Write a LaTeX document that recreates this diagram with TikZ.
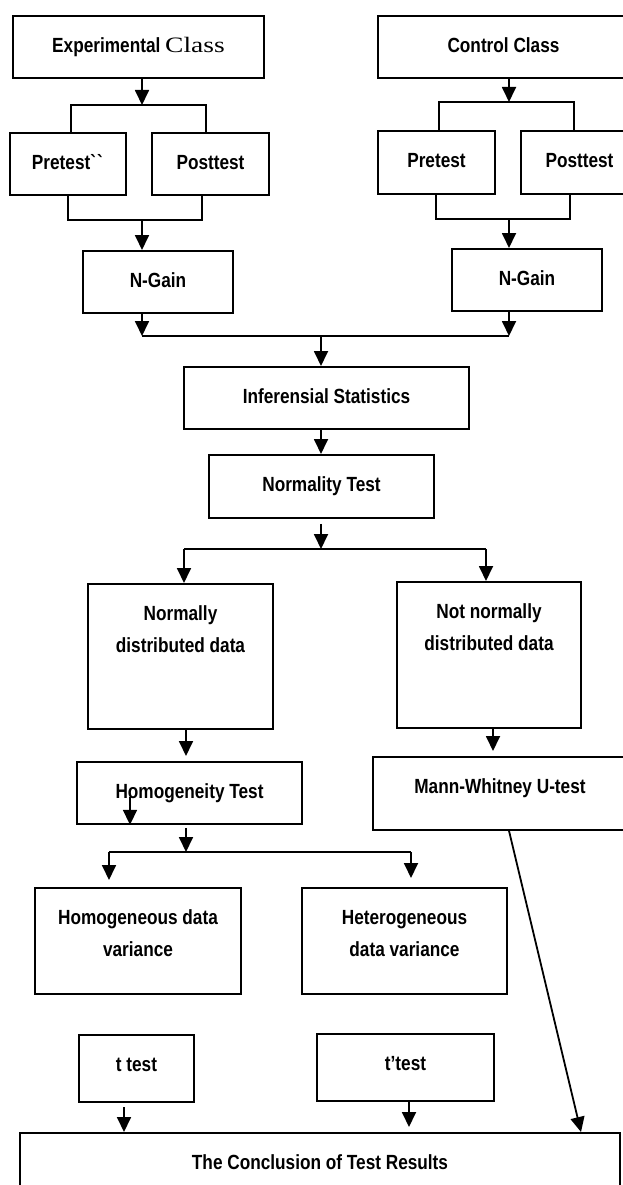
\documentclass[tikz,border=0pt]{standalone}
\usepackage{fontspec}
\setmainfont{Liberation Sans}
\newfontfamily\boxfont{Liberation Sans}[FakeStretch=0.84]
\newfontfamily\clsfont{Liberation Serif}[FakeStretch=1.25]
\usetikzlibrary{arrows.meta,calc}

\begin{document}
\begin{tikzpicture}[x=1pt,y=-1pt,
    box/.style={draw, line width=1.8pt, inner sep=0pt, anchor=north, align=center,
      text height=37pt, font=\boxfont\bfseries\fontsize{20.5}{31.5}\selectfont},
    twobox/.style={box, text height=68.5pt},
    line/.style={line width=1.8pt},
    arr/.style={line width=1.8pt, -{Triangle[width=14pt,length=15pt]}}]
    \useasboundingbox (0,0) rectangle (623,1185);
    % Classes
    \node[box, minimum width=251pt, text depth=25pt] (exp) at (138.5,15) {Experimental {\clsfont\mdseries\fontsize{22}{26}\selectfont Class}};
    \node[box, minimum width=251pt, text depth=25pt] (ctl) at (503.5,15) {Control Class};
    % Tests of each class
    \node[box, minimum width=116pt, text depth=25pt] (preE) at (68,132) {Pretest\textasciigrave\textasciigrave};
    \node[box, minimum width=117pt, text depth=25pt] (postE) at (210.5,132) {Posttest};
    \node[box, minimum width=117pt, text depth=26pt] (preC) at (436.5,130) {Pretest};
    \node[box, minimum width=117pt, text depth=26pt] (postC) at (579.5,130) {Posttest};
    \node[box, minimum width=150pt, text depth=25pt] (ngE) at (158,250) {N-Gain};
    \node[box, minimum width=150pt, text depth=25pt] (ngC) at (527,248) {N-Gain};
    % Statistics
    \node[box, minimum width=285pt, text depth=25pt] (inf) at (326.5,366) {Inferensial Statistics};
    \node[box, minimum width=225pt, text depth=26pt] (nt) at (321.5,454) {Normality Test};
    \node[twobox, minimum width=185pt, text depth=76.5pt] (nd) at (180.5,583) {Normally\\distributed data};
    \node[twobox, minimum width=184pt, text depth=77.5pt] (nnd) at (489,581) {Not normally\\distributed data};
    \node[box, minimum width=225pt, text depth=25pt] (hom) at (189.5,761) {Homogeneity Test};
    \node[box, minimum width=254pt, text depth=36pt] (mw) at (500,756) {Mann-Whitney U-test};
    \node[twobox, minimum width=206pt, text depth=37.5pt] (hgs) at (138,887) {Homogeneous data\\variance};
    \node[twobox, minimum width=205pt, text depth=37.5pt] (htg) at (404.5,887) {Heterogeneous\\data variance};
    \node[box, minimum width=115pt, text depth=30pt] (tt) at (136.5,1034) {t test};
    \node[box, minimum width=177pt, text depth=30pt] (tpt) at (405.5,1033) {t’test};
    \node[box, minimum width=600pt, text depth=35pt] (cnc) at (320,1132) {The Conclusion of Test Results};

    % Brackets of the experimental class
    \coordinate (eL) at (71,105); \coordinate (eM) at (142,105); \coordinate (eR) at (206,105);
    \coordinate (fL) at (68,220); \coordinate (fM) at (142,220); \coordinate (fR) at (202,220);
    \draw[arr] (exp.south -| eM) -- (eM);
    \draw[line] (preE.north -| eL) -- (eL) -- (eR) -- (postE.north -| eR);
    \draw[line] (preE.south -| fL) -- (fL) -- (fR) -- (postE.south -| fR);
    \draw[arr] (fM) -- (ngE.north -| fM);
    % Brackets of the control class
    \coordinate (cL) at (439,102); \coordinate (cM) at (509,102); \coordinate (cR) at (574,102);
    \coordinate (gL) at (436,219); \coordinate (gM) at (509,219); \coordinate (gR) at (570,219);
    \draw[arr] (ctl.south -| cM) -- (cM);
    \draw[line] (preC.north -| cL) -- (cL) -- (cR) -- (postC.north -| cR);
    \draw[line] (preC.south -| gL) -- (gL) -- (gR) -- (postC.south -| gR);
    \draw[arr] (gM) -- (ngC.north -| gM);
    % Joining both N-Gains
    \coordinate (mE) at (142,336); \coordinate (mM) at (321,336); \coordinate (mC) at (509,336);
    \draw[arr] (ngE.south -| mE) -- (mE);
    \draw[arr] (ngC.south -| mC) -- (mC);
    \draw[line] (mE) -- (mC);
    \draw[arr] (mM) -- (inf.north -| mM);
    \draw[arr] (inf.south -| mM) -- (nt.north -| mM);
    % Normality split
    \coordinate (sL) at (184,549); \coordinate (sM) at (321,549); \coordinate (sR) at (486,549);
    \draw[arr] ($(nt.south -| sM)+(0,5)$) -- (sM);
    \draw[line] (sL) -- (sR);
    \draw[arr] (sL) -- (nd.north -| sL);
    \draw[arr] (sR) -- (nnd.north -| sR);
    \coordinate (hA) at (186,756); \coordinate (uA) at (493,751);
    \draw[arr] (nd.south -| hA) -- (hA);
    \draw[arr] (nnd.south -| uA) -- (uA);
    % Homogeneity split
    \coordinate (hS) at (130,797);
    \draw[arr] (hS) -- (hom.south -| hS);
    \coordinate (tL) at (109,852); \coordinate (tM) at (186,852); \coordinate (tR) at (411,852);
    \draw[arr] ($(hom.south -| tM)+(0,3)$) -- (tM);
    \draw[line] (tL) -- (tR);
    \draw[arr] (tL) -- ($(hgs.north -| tL)+(0,-7)$);
    \draw[arr] (tR) -- ($(htg.north -| tR)+(0,-9)$);
    % Into the conclusion
    \coordinate (kA) at (124,1107); \coordinate (kB) at (409,1127);
    \coordinate (uB) at (509,829); \coordinate (kC) at (581,1132);
    \draw[arr] (kA) -- (cnc.north -| kA);
    \draw[arr] (tpt.south -| kB) -- (kB);
    \draw[arr] (mw.south -| uB) -- (kC);
\end{tikzpicture}
\end{document}
